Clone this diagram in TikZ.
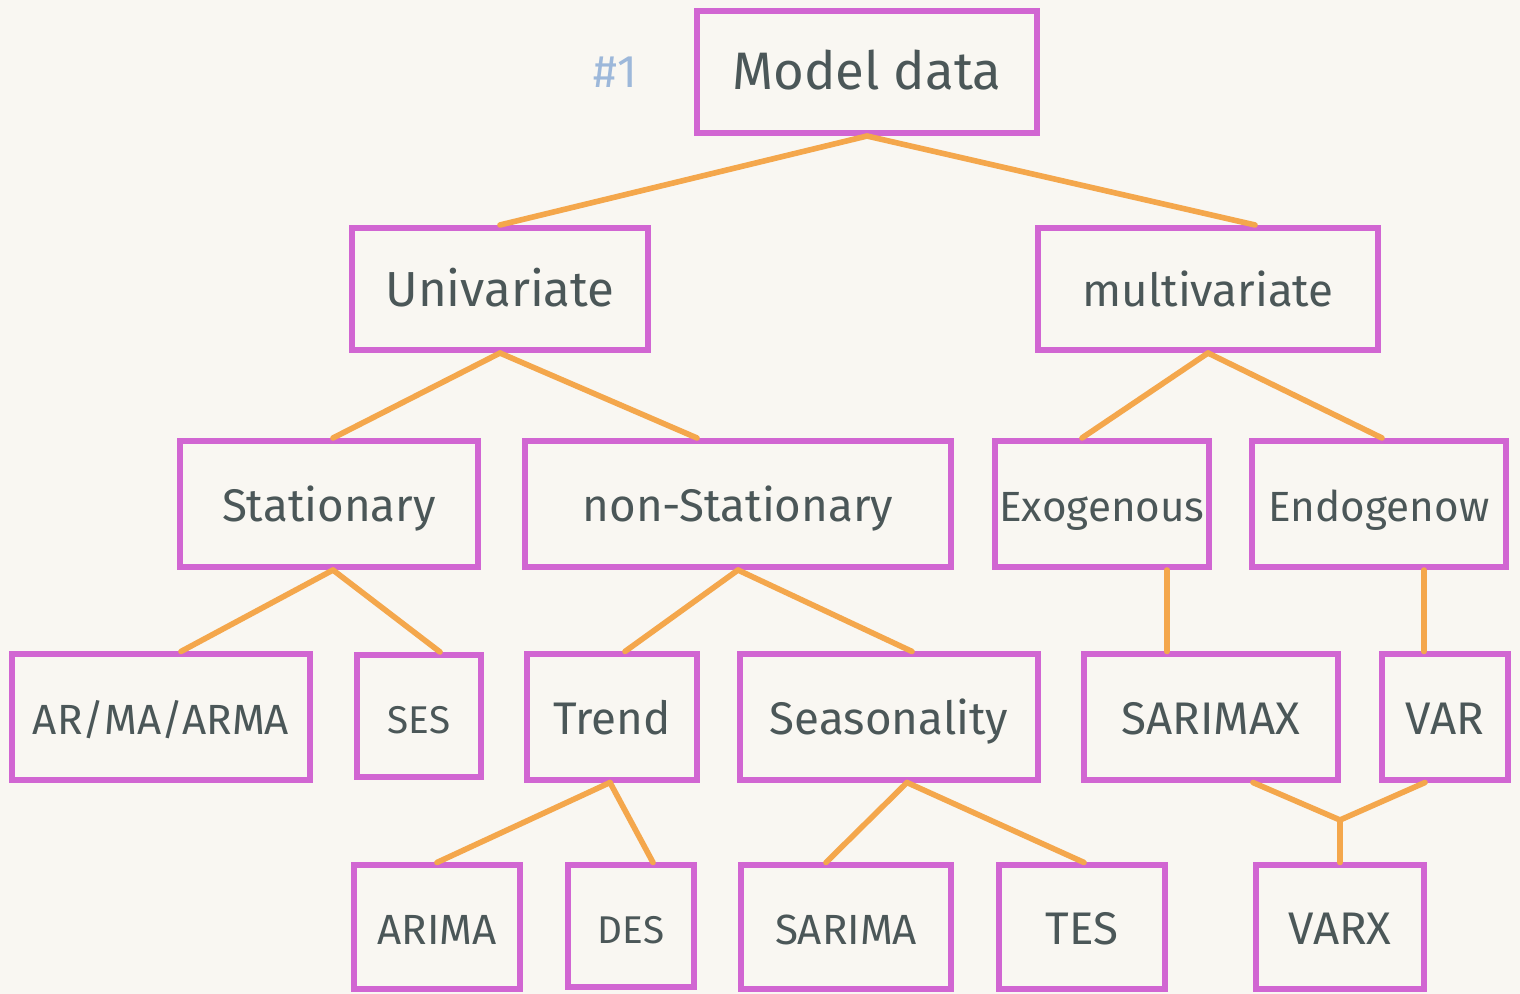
\documentclass[tikz,border=0pt]{standalone}
\usepackage{fontspec}
\setmainfont{Fira Sans}
\usetikzlibrary{positioning}
\usetikzlibrary{calc}
\definecolor{paper}{HTML}{F9F7F2}
\definecolor{boxpink}{HTML}{D166D2}
\definecolor{linkorange}{HTML}{F4A74C}
\definecolor{ink}{HTML}{4B5758}
\definecolor{tagblue}{HTML}{9DB8DA}
\begin{document}
\begin{tikzpicture}[x=0.01cm,y=-0.01cm,
    box/.style={draw=boxpink,line width=1.7pt,rectangle,inner sep=0pt,text=ink,
      text height=2.1ex,text depth=0.25ex,font=\fontsize{13}{15}\selectfont},
    link/.style={draw=linkorange,line width=1.6pt,line cap=round}]
    % Paper
    \fill[paper] (0,0) rectangle (1520,994);
    \useasboundingbox (0,0) rectangle (1520,994);
    % Place nodes
    \node [box,minimum width=3.39cm,minimum height=1.22cm,font=\fontsize{15}{17}\selectfont] (model) at (867,72) {Model data};
    \node [text=tagblue,font=\fontsize{13}{15}\selectfont,left=0.45cm of model] (tag) {\#1};
    \node [box,minimum width=2.96cm,minimum height=1.22cm,font=\fontsize{14}{16}\selectfont] (uni) at (500,289) {Univariate};
    \node [box,minimum width=3.39cm,minimum height=1.22cm] (multi) at (1208,289) {multivariate};
    \node [box,minimum width=2.97cm,minimum height=1.26cm] (stat) at (329,504) {Stationary};
    \node [box,minimum width=4.26cm,minimum height=1.26cm] (nonstat) at (738,504) {non-Stationary};
    \node [box,minimum width=2.13cm,minimum height=1.26cm,font=\fontsize{12}{14}\selectfont] (exo) at (1102,504) {Exogenous};
    \node [box,minimum width=2.53cm,minimum height=1.26cm,font=\fontsize{12}{14}\selectfont] (endo) at (1379,504) {Endogenow};
    \node [box,minimum width=2.97cm,minimum height=1.25cm,font=\fontsize{12}{14}\selectfont] (arma) at (161,717) {AR/MA/ARMA};
    \node [box,minimum width=1.24cm,minimum height=1.22cm,font=\fontsize{11}{13}\selectfont] (ses) at (419,716) {SES};
    \node [box,minimum width=1.69cm,minimum height=1.25cm] (trend) at (612,717) {Trend};
    \node [box,minimum width=2.97cm,minimum height=1.25cm] (seas) at (889,717) {Seasonality};
    \node [box,minimum width=2.53cm,minimum height=1.25cm] (sarimax) at (1211,717) {SARIMAX};
    \node [box,minimum width=1.25cm,minimum height=1.25cm] (var) at (1445,717) {VAR};
    \node [box,minimum width=1.65cm,minimum height=1.23cm,font=\fontsize{12}{14}\selectfont] (arima) at (437,927) {ARIMA};
    \node [box,minimum width=1.25cm,minimum height=1.21cm,font=\fontsize{11}{13}\selectfont] (des) at (631,926) {DES};
    \node [box,minimum width=2.10cm,minimum height=1.23cm,font=\fontsize{12}{14}\selectfont] (sarima) at (846,927) {SARIMA};
    \node [box,minimum width=1.66cm,minimum height=1.23cm] (tes) at (1082,927) {TES};
    \node [box,minimum width=1.68cm,minimum height=1.23cm] (varx) at (1340,927) {VARX};
    \coordinate (join) at (1340,820);

    % Links
    \draw [link] (model.south) -- (uni.north);
    \draw [link] (model.south) -- ($(multi.north)+(47,0)$);
    \draw [link] (uni.south) -- ($(stat.north)+(4,0)$);
    \draw [link] (uni.south) -- ($(nonstat.north)+(-41,0)$);
    \draw [link] (multi.south) -- ($(exo.north)+(-20,0)$);
    \draw [link] (multi.south) -- ($(endo.north)+(3,0)$);
    \draw [link] ($(stat.south)+(4,0)$) -- ($(arma.north)+(20,0)$);
    \draw [link] ($(stat.south)+(4,0)$) -- ($(ses.north)+(21,0)$);
    \draw [link] (nonstat.south) -- ($(trend.north)+(13,0)$);
    \draw [link] (nonstat.south) -- ($(seas.north)+(23,0)$);
    \draw [link] ($(exo.south)+(65,0)$) -- ($(sarimax.north)+(-44,0)$);
    \draw [link] ($(endo.south)+(45,0)$) -- ($(var.north)+(-21,0)$);
    \draw [link] ($(trend.south)+(-2,0)$) -- (arima.north);
    \draw [link] ($(trend.south)+(-2,0)$) -- ($(des.north)+(22,0)$);
    \draw [link] ($(seas.south)+(18,0)$) -- ($(sarima.north)+(-20,0)$);
    \draw [link] ($(seas.south)+(18,0)$) -- ($(tes.north)+(2,0)$);
    \draw [link] ($(sarimax.south)+(42,0)$) -- (join);
    \draw [link] ($(var.south)+(-20,0)$) -- (join);
    \draw [link] (join) -- (varx.north);
\end{tikzpicture}
\end{document}
